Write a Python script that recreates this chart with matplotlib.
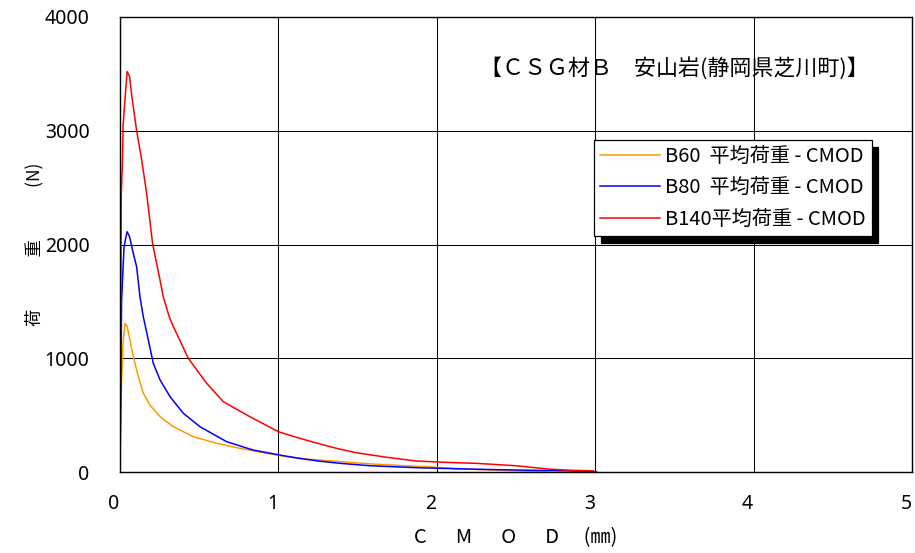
import matplotlib
matplotlib.use("Agg")
import matplotlib.pyplot as plt
from matplotlib.transforms import ScaledTranslation

# CMOD (mm) / load (N)
b60_x = [0, 0.004, 0.01, 0.02, 0.032, 0.045, 0.063, 0.084, 0.116, 0.147, 0.189, 0.253,
         0.337, 0.463, 0.61, 0.758, 0.926, 1.05, 1.2, 1.4, 1.6, 1.8, 1.94, 2.1, 2.3,
         2.5, 2.7]
b60_y = [0, 520, 800, 1150, 1307, 1280, 1160, 1014, 838, 692, 589, 486,
         398, 310, 252, 208, 164, 135, 112, 90, 70, 55, 47, 30, 20,
         10, 0]

b80_x = [0, 0.005, 0.01, 0.025, 0.035, 0.045, 0.06, 0.084, 0.105, 0.126, 0.147, 0.179,
         0.21, 0.253, 0.316, 0.40, 0.505, 0.674, 0.84, 1.01, 1.13, 1.26, 1.4, 1.58,
         1.75, 1.89, 2.1, 2.25, 2.6, 2.9, 3.01]
b80_y = [0, 600, 1500, 1970, 2050, 2112, 2070, 1922, 1805, 1541, 1365, 1160,
         955, 809, 662, 516, 398, 266, 193, 149, 120, 95, 75, 55,
         45, 37, 30, 24, 15, 8, 0]

b140_x = [0, 0.005, 0.008, 0.015, 0.02, 0.03, 0.045, 0.06, 0.075, 0.105, 0.137, 0.168,
          0.206, 0.2525, 0.273, 0.311, 0.337, 0.431, 0.547, 0.652, 0.82, 1.0, 1.136, 1.24,
          1.37, 1.49, 1.68, 1.87, 2.05, 2.25, 2.5, 2.71, 2.85, 2.99, 3.0]
b140_y = [0, 1500, 2450, 2700, 3050, 3250, 3520, 3480, 3300, 3000, 2743, 2450,
          2005, 1688, 1541, 1365, 1277, 1000, 780, 618, 486, 354, 296, 255,
          207, 170, 130, 97, 85, 76, 55, 25, 15, 10, 0]

labels = ["B60  平均荷重 - CMOD", "B80  平均荷重 - CMOD", "B140平均荷重 - CMOD"]
colors = ["#ff9900", "#0000ff", "#ff0000"]
x_ticks = [0, 1, 2, 3, 4, 5]
y_ticks = [0, 1000, 2000, 3000, 4000]

jp = ["Noto Sans CJK JP", "DejaVu Sans"]

fig = plt.figure(figsize=(9.15, 5.53), dpi=100)
ax = fig.add_axes([120 / 915, 81 / 553, 792 / 915, 455 / 553])

ax.plot(b60_x, b60_y, color=colors[0], lw=1.1, label=labels[0])
ax.plot(b80_x, b80_y, color=colors[1], lw=1.1, label=labels[1])
ax.plot(b140_x, b140_y, color=colors[2], lw=1.1, label=labels[2])

ax.set_xlim(0, 5)
ax.set_ylim(0, 4000)
ax.set_xticks(x_ticks)
ax.set_yticks(y_ticks)
ax.grid(True, color="black", lw=0.75)
ax.set_axisbelow(True)
ax.tick_params(length=0, labelsize=14)
ax.tick_params(axis="x", pad=16)
ax.tick_params(axis="y", pad=22)
for lab in ax.get_xticklabels() + ax.get_yticklabels():
    lab.set_fontfamily("Noto Sans")
for lab in ax.get_xticklabels():
    lab.set_transform(lab.get_transform() + ScaledTranslation(-6 / 100, 0, fig.dpi_scale_trans))
for sp in ax.spines.values():
    sp.set_color("black")
    sp.set_linewidth(1.0)

ax.set_xlabel("C　  M　  O　  D　 (㎜)", family=jp, fontsize=14.5, labelpad=9)
ax.set_ylabel("荷　　　重　　　(N)", family=jp, fontsize=12.5, labelpad=1)

ax.text(3.5, 3552, "【ＣＳＧ材Ｂ　安山岩(静岡県芝川町)】", family=jp, fontsize=15.8,
        ha="center", va="center")

leg = ax.legend(loc="upper right", bbox_to_anchor=(0.949, 0.730), fancybox=False,
                framealpha=1, edgecolor="black", prop={"family": jp, "size": 14.5},
                handlelength=2.95, handletextpad=0.25, labelspacing=0.52,
                borderpad=0.3, borderaxespad=0,
                shadow={"ox": 4.5, "oy": -5, "color": "black", "alpha": 1})
leg.get_frame().set_linewidth(0.9)

fig.savefig("out.png", dpi=100)
